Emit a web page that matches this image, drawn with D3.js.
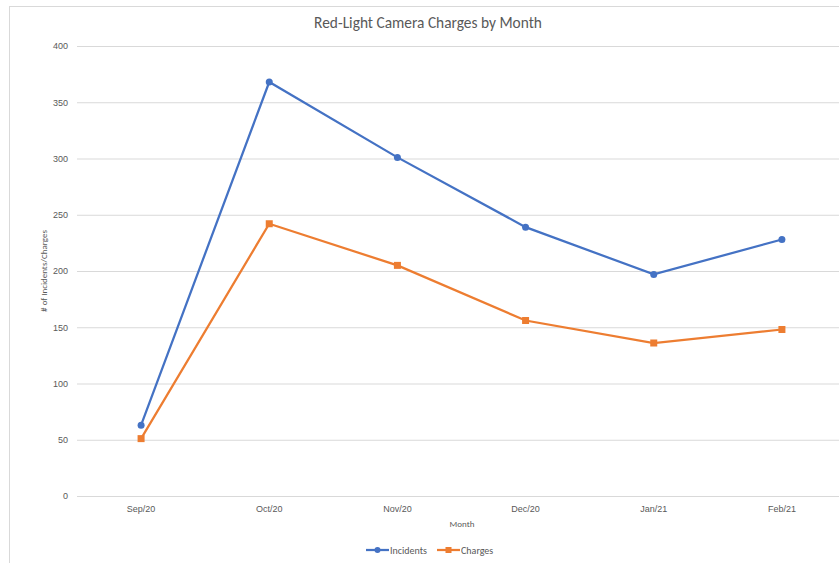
<!DOCTYPE html>
<html>
<head>
<meta charset="utf-8">
<script src="https://cdn.jsdelivr.net/npm/d3@7"></script>
<style>
  body { margin: 0; background: #fff; }
  svg { display: block; font-family: Calibri, Carlito, "Open Sans", sans-serif; }
</style>
</head>
<body>
<div id="chart"></div>
<script>
// chart data
var months = ['Sep/20', 'Oct/20', 'Nov/20', 'Dec/20', 'Jan/21', 'Feb/21']
var incidents = [63, 368, 301, 239, 197, 228]
var charges = [51, 242, 205, 156, 136, 148]
var yTicks = [0, 50, 100, 150, 200, 250, 300, 350, 400]
var seriesNames = ['Incidents', 'Charges']

var W = 839
var H = 563
var margin = { left: 77, top: 46, bottom: 67 }
var plotW = 769 // plot runs slightly past the right edge, as in the source
var plotH = H - margin.top - margin.bottom

var svg = d3.select('#chart').append('svg')
  .attr('width', W)
  .attr('height', H)

// outer chart-area border (cropped on right/bottom)
svg.append('rect')
  .attr('x', 9.5).attr('y', 6.5)
  .attr('width', W + 10).attr('height', H + 10)
  .attr('fill', 'none').attr('stroke', '#d9d9d9')

var g = svg.append('g').attr('transform', 'translate(' + margin.left + ',' + margin.top + ')')

var x = d3.scaleBand().domain(months).range([0, plotW])
var y = d3.scaleLinear().domain([0, 400]).range([plotH, 0])

// gridlines
g.append('g')
  .selectAll('line')
  .data(yTicks)
  .enter()
  .append('line')
  .attr('x1', 0).attr('x2', plotW)
  .attr('y1', function (d) { return y(d) + 0.5 })
  .attr('y2', function (d) { return y(d) + 0.5 })
  .attr('stroke', '#d9d9d9').attr('stroke-width', 1)

// y axis labels
var yAxis = d3.axisLeft(y).tickValues(yTicks).tickSize(0).tickPadding(9)
g.append('g').call(yAxis)
  .call(function (s) { s.select('.domain').remove() })
  .selectAll('text')
  .attr('fill', '#595959').attr('font-size', 9)

// x axis labels
var xAxis = d3.axisBottom(x).tickSize(0).tickPadding(10)
g.append('g').attr('transform', 'translate(0,' + plotH + ')').call(xAxis)
  .call(function (s) { s.select('.domain').remove() })
  .selectAll('text')
  .attr('fill', '#595959').attr('font-size', 9)

// titles
svg.append('text')
  .attr('x', 428).attr('y', 28)
  .attr('text-anchor', 'middle')
  .attr('fill', '#595959').attr('font-size', 15.4)
  .text('Red-Light Camera Charges by Month')

svg.append('text')
  .attr('x', 462).attr('y', 527)
  .attr('text-anchor', 'middle')
  .attr('fill', '#595959').attr('font-size', 9)
  .text('Month')

svg.append('text')
  .attr('transform', 'translate(47,271) rotate(-90)')
  .attr('text-anchor', 'middle')
  .attr('fill', '#595959').attr('font-size', 9)
  .text('# of Incidents/Charges')

var line = d3.line()
  .x(function (d, i) { return x(months[i]) + x.bandwidth() / 2 })
  .y(function (d) { return y(d) })

// incidents line with circles
g.append('path').datum(incidents)
  .attr('d', line).attr('fill', 'none')
  .attr('stroke', '#4472c4').attr('stroke-width', 2.25)
g.selectAll('.inc')
  .data(incidents)
  .enter()
  .append('circle')
  .attr('class', 'inc')
  .attr('cx', function (d, i) { return x(months[i]) + x.bandwidth() / 2 })
  .attr('cy', function (d) { return y(d) })
  .attr('r', 3.5)
  .attr('fill', '#4472c4')

// charges line with squares
g.append('path').datum(charges)
  .attr('d', line).attr('fill', 'none')
  .attr('stroke', '#ed7d31').attr('stroke-width', 2.25)
g.selectAll('.chg')
  .data(charges)
  .enter()
  .append('rect')
  .attr('class', 'chg')
  .attr('x', function (d, i) { return x(months[i]) + x.bandwidth() / 2 - 3.5 })
  .attr('y', function (d) { return y(d) - 3.5 })
  .attr('width', 7).attr('height', 7)
  .attr('fill', '#ed7d31')

// legend
var legend = svg.append('g').attr('transform', 'translate(366,550)')
var colors = ['#4472c4', '#ed7d31']
var offsets = [0, 71]
seriesNames.forEach(function (name, i) {
  var lg = legend.append('g').attr('transform', 'translate(' + offsets[i] + ',0)')
  lg.append('line').attr('x1', 0).attr('x2', 23).attr('y1', 0).attr('y2', 0)
    .attr('stroke', colors[i]).attr('stroke-width', 2.25)
  if (i === 0) {
    lg.append('circle').attr('cx', 11.5).attr('cy', 0).attr('r', 3).attr('fill', colors[i])
  } else {
    lg.append('rect').attr('x', 8.5).attr('y', -3).attr('width', 6).attr('height', 6).attr('fill', colors[i])
  }
  lg.append('text').attr('x', 24).attr('y', 3.5)
    .attr('fill', '#595959').attr('font-size', 10)
    .text(name)
})
</script>
</body>
</html>
